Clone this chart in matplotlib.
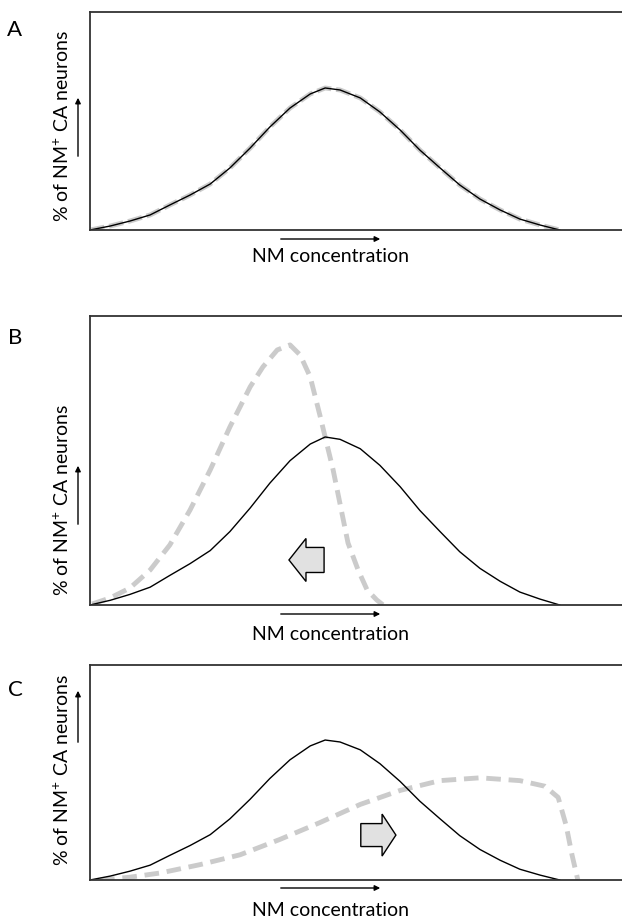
import matplotlib
matplotlib.use("Agg")
import matplotlib.pyplot as plt
from matplotlib.patches import FancyArrow

plt.rcParams['font.family'] = ['Lato', 'DejaVu Sans']
plt.rcParams['mathtext.default'] = 'regular'

# NM concentration (arbitrary units, 0-100 across the panel)
# control distribution, same in all panels (peak = 100)
x_ctrl = [0, 3.8, 7.5, 11.3, 15.0, 18.8, 22.6, 26.3, 30.1, 33.8, 37.6, 41.4, 44.2,
          47.0, 50.8, 54.5, 58.3, 62.0, 65.8, 69.5, 73.3, 77.1, 80.8, 84.6, 88.3]
y_ctrl = [0, 2.8, 6.3, 10.6, 17.6, 24.6, 32.4, 43.7, 57.7, 72.5, 85.9, 95.8, 100,
          98.6, 93.0, 83.1, 70.4, 56.3, 43.7, 31.7, 21.8, 14.1, 7.7, 3.5, 0]

# B: shift to lower NM
x_low = [0.4, 3.8, 7.5, 11.3, 15.0, 18.8, 22.6, 26.3, 30.1, 32.5, 35.2, 37.6, 39.5,
         41.4, 43.2, 45.7, 48.5, 50.4, 52.1, 53.9, 55.1]
y_low = [0.6, 4.2, 10.1, 20.8, 35.7, 56.5, 80.4, 106.0, 129.8, 141.7, 151.8, 154.8, 148.8,
         135.7, 113.1, 80.4, 36.9, 20.8, 8.9, 3.0, 0]

# C: shift to higher NM
x_high = [1.9, 7.5, 13.2, 20.7, 28.2, 35.7, 43.2, 50.8, 58.3, 65.8, 73.3, 80.8, 85.5,
          88.0, 89.5, 90.6, 91.7]
y_high = [0, 2, 5, 11, 18, 29, 41, 54, 64, 71, 73, 71, 67, 59, 39, 18, 0]

ylims = [153.5, 172, 153.6]
letters = ['A', 'B', 'C']

W, H = 622, 921

def fx(px):
    return px / W

def fy(py):
    return 1 - py / H

fig = plt.figure(figsize=(6.22, 9.21), dpi=100)

# panel boxes in pixels: top, bottom
boxes = [(12, 230), (316, 605), (665, 880)]
ylab_y = [126, 500, 770]
yarrow = [(159, 95), (527, 463), (745, 688)]
xarrow_y = [239, 614, 888]
xlab_y = [256, 634, 910]
letter_y = [30, 338, 690]

dash_gray = '#cbcbcb'
arrow_fill = '#e1e1e1'

axes = []
for i, (top, bot) in enumerate(boxes):
    ax = fig.add_axes([fx(90), fy(bot), 1 - fx(90), (bot - top) / H])
    ax.set_xlim(0, 100)
    ax.set_ylim(0, ylims[i])
    ax.set_xticks([])
    ax.set_yticks([])
    ax.spines['right'].set_visible(False)
    for s in ['left', 'top', 'bottom']:
        ax.spines[s].set_linewidth(1.3)
        ax.spines[s].set_color('#333333')
    axes.append(ax)

    fig.text(fx(62), fy(ylab_y[i]), '% of NM$^{+}$ CA neurons', rotation=90,
             ha='center', va='center', fontsize=14)
    ax.annotate('', xy=(fx(78), fy(yarrow[i][1])), xytext=(fx(78), fy(yarrow[i][0])),
                xycoords='figure fraction', textcoords='figure fraction',
                arrowprops=dict(arrowstyle='-|>', color='black', lw=1, mutation_scale=8))
    ax.annotate('', xy=(fx(383), fy(xarrow_y[i])), xytext=(fx(278), fy(xarrow_y[i])),
                xycoords='figure fraction', textcoords='figure fraction',
                arrowprops=dict(arrowstyle='-|>', color='black', lw=1, mutation_scale=8))
    fig.text(fx(331), fy(xlab_y[i]), 'NM concentration', ha='center', va='center', fontsize=14)
    fig.text(fx(15), fy(letter_y[i]), letters[i], ha='center', va='center', fontsize=16)

# A: both curves overlap
axA, axB, axC = axes
axA.plot(x_ctrl, y_ctrl, color=dash_gray, lw=3.5, dashes=(3, 1), solid_capstyle='butt')
axA.plot(x_ctrl, y_ctrl, color='black', lw=1)

# B
axB.plot(x_low, y_low, color=dash_gray, lw=3.5, dashes=(3, 1.6))
axB.plot(x_ctrl, y_ctrl, color='black', lw=1)
axB.add_patch(FancyArrow(44.0, 26.8, -6.6 + 3.2, 0, width=14.9, head_width=25.6,
                         head_length=3.2, length_includes_head=False,
                         facecolor=arrow_fill, edgecolor='black', lw=1))

# C
axC.plot(x_high, y_high, color=dash_gray, lw=3.5, dashes=(3, 1.6))
axC.plot(x_ctrl, y_ctrl, color='black', lw=1)
axC.add_patch(FancyArrow(50.9, 32.1, 6.6 - 2.6, 0, width=16.4, head_width=30,
                         head_length=2.6, length_includes_head=False,
                         facecolor=arrow_fill, edgecolor='black', lw=1))

fig.savefig('out.png', dpi=100)
